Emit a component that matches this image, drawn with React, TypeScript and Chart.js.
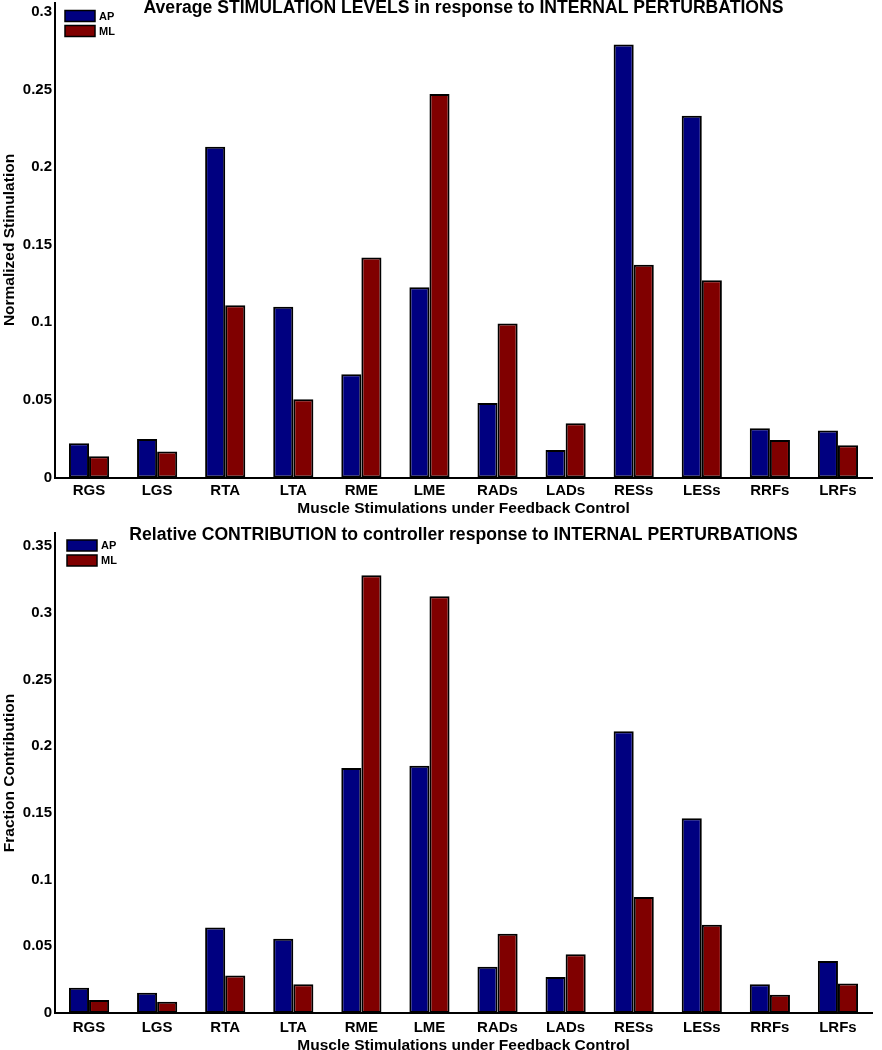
import React, { useEffect, useRef } from "react";
import { Chart, registerables } from "chart.js";

Chart.register(...registerables);

const categories = ["RGS", "LGS", "RTA", "LTA", "RME", "LME", "RADs", "LADs", "RESs", "LESs", "RRFs", "LRFs"];
const seriesNames = ["AP", "ML"];
const seriesColors = ["#000080", "#800000"];

const stimAP = [0.022, 0.0248, 0.213, 0.110, 0.0665, 0.1225, 0.048, 0.0177, 0.279, 0.233, 0.0317, 0.0302];
const stimML = [0.0137, 0.0168, 0.111, 0.0504, 0.1417, 0.247, 0.0992, 0.0349, 0.137, 0.127, 0.0242, 0.0207];

const contribAP = [0.019, 0.0152, 0.0642, 0.0557, 0.1838, 0.1855, 0.0347, 0.027, 0.2113, 0.146, 0.0215, 0.039];
const contribML = [0.0097, 0.0085, 0.0282, 0.0215, 0.3283, 0.3125, 0.0595, 0.044, 0.087, 0.0662, 0.0137, 0.0222];

const topTitle = "Average STIMULATION LEVELS in response to INTERNAL PERTURBATIONS";
const bottomTitle = "Relative CONTRIBUTION to controller response to INTERNAL PERTURBATIONS";
const xTitle = "Muscle Stimulations under Feedback Control";
const topYTitle = "Normalized Stimulation";
const bottomYTitle = "Fraction Contribution";

const FONT = "'Liberation Sans', Arial, Helvetica, sans-serif";

const decorPlugin = {
  id: "panelDecor",
  afterDraw(chart: any, _args: any, opts: any) {
    const ctx = chart.ctx;
    const area = chart.chartArea;
    ctx.save();
    // title
    ctx.fillStyle = "#000";
    ctx.font = `bold 17.6px ${FONT}`;
    ctx.textAlign = "center";
    ctx.textBaseline = "middle";
    ctx.fillText(opts.title, (area.left + area.right) / 2, opts.titleY);
    // legend
    const bx = area.left + opts.legendDx;
    let by = area.top + opts.legendDy;
    chart.data.datasets.forEach((ds: any) => {
      ctx.fillStyle = ds.backgroundColor;
      ctx.fillRect(bx, by, 30, 11);
      ctx.lineWidth = 1.5;
      ctx.strokeStyle = "#000";
      ctx.strokeRect(bx, by, 30, 11);
      ctx.fillStyle = "#000";
      ctx.font = `bold 11px ${FONT}`;
      ctx.textAlign = "left";
      ctx.textBaseline = "middle";
      ctx.fillText(ds.label, bx + 34, by + 6);
      by += 15;
    });
    ctx.restore();
  },
};

type PanelProps = {
  title: string;
  yTitle: string;
  ap: number[];
  ml: number[];
  yMax: number;
  height: number;
  padTop: number;
  xHeight: number;
  tickPad: number;
  xTitlePad: number;
  titleY: number;
  legendDy: number;
  legendDx: number;
};

function Panel(p: PanelProps) {
  const ref = useRef<HTMLCanvasElement | null>(null);
  useEffect(() => {
    if (!ref.current) return;
    const chart = new Chart(ref.current, {
      type: "bar",
      data: {
        labels: categories,
        datasets: [
          {
            label: seriesNames[0],
            data: p.ap,
            backgroundColor: seriesColors[0],
            borderColor: "#000",
            borderWidth: 2,
            borderSkipped: false,
          },
          {
            label: seriesNames[1],
            data: p.ml,
            backgroundColor: seriesColors[1],
            borderColor: "#000",
            borderWidth: 2,
            borderSkipped: false,
          },
        ],
      },
      options: {
        responsive: false,
        animation: false,
        devicePixelRatio: 1,
        layout: { padding: { left: 0, top: p.padTop, right: 10, bottom: 0 } },
        datasets: { bar: { categoryPercentage: 0.59, barPercentage: 1.0 } },
        plugins: {
          legend: { display: false },
          title: { display: false },
          tooltip: { enabled: false },
          panelDecor: {
            title: p.title,
            titleY: p.titleY,
            legendDx: p.legendDx,
            legendDy: p.legendDy,
          },
        } as any,
        scales: {
          x: {
            grid: { display: false, drawTicks: false },
            border: { display: true, color: "#000", width: 2 },
            ticks: {
              color: "#000",
              padding: p.tickPad,
              font: { family: FONT, size: 15, weight: "bold" },
              maxRotation: 0,
              autoSkip: false,
            },
            title: {
              display: true,
              text: xTitle,
              color: "#000",
              font: { family: FONT, size: 15.5, weight: "bold", lineHeight: 1.2 },
              padding: { top: 0, bottom: p.xTitlePad },
            },
            afterFit: (s: any) => {
              s.height = p.xHeight;
              s.paddingLeft = 0;
              s.paddingRight = 0;
            },
          },
          y: {
            min: 0,
            max: p.yMax,
            grid: { display: false, drawTicks: false },
            border: { display: true, color: "#000", width: 2 },
            ticks: {
              stepSize: 0.05,
              includeBounds: false,
              color: "#000",
              padding: 3,
              font: { family: FONT, size: 15, weight: "bold" },
              callback: (v: any) => String(+(+v).toFixed(2)),
            },
            title: {
              display: true,
              text: p.yTitle,
              color: "#000",
              font: { family: FONT, size: 15.5, weight: "bold", lineHeight: 1.2 },
              padding: { top: 0, bottom: 0 },
            },
            afterFit: (s: any) => {
              s.width = 55;
              s.paddingTop = 0;
              s.paddingBottom = 0;
            },
          },
        },
      },
      plugins: [decorPlugin],
    } as any);
    return () => chart.destroy();
  }, []);
  return <canvas ref={ref} width={882} height={p.height} style={{ display: "block", width: 882, height: p.height }} />;
}

export default function App() {
  return (
    <div style={{ position: "absolute", left: 0, top: 0, width: 882, height: 1050, background: "#fff", overflow: "hidden" }}>
      <Panel
        title={topTitle}
        yTitle={topYTitle}
        ap={stimAP}
        ml={stimML}
        yMax={0.306}
        height={520}
        padTop={2.5}
        xHeight={42.5}
        tickPad={4}
        xTitlePad={2}
        titleY={8.5}
        legendDx={10}
        legendDy={8}
      />
      <Panel
        title={bottomTitle}
        yTitle={bottomYTitle}
        ap={contribAP}
        ml={contribML}
        yMax={0.36}
        height={530}
        padTop={13}
        xHeight={37}
        tickPad={6}
        xTitlePad={-5}
        titleY={15}
        legendDx={12}
        legendDy={7}
      />
    </div>
  );
}
